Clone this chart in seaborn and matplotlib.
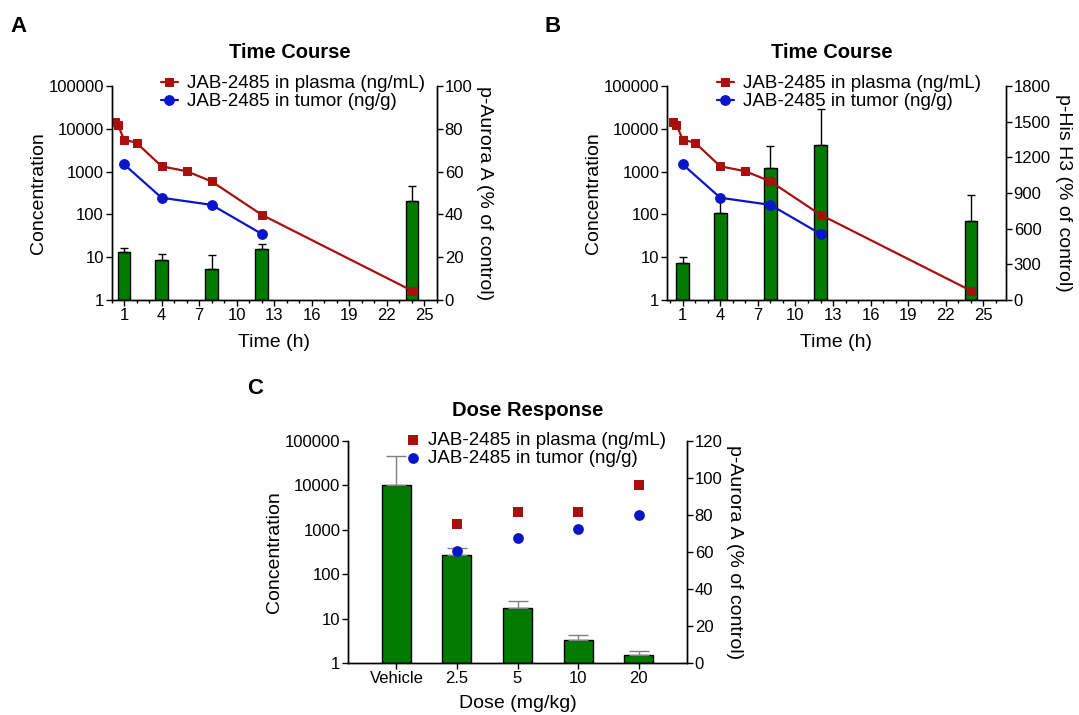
import numpy as np
import matplotlib
matplotlib.use("Agg")
import matplotlib.pyplot as plt
from matplotlib.ticker import FixedLocator, MultipleLocator
import seaborn as sns

# time course, concentrations (left log axis)
time_plasma = [0.25, 0.5, 1, 2, 4, 6, 8, 12, 24]
plasma_conc = [14300, 12600, 5600, 4700, 1330, 1020, 590, 98, 1.65]
time_tumor = [1, 4, 8, 12]
tumor_conc = [1480, 245, 167, 35]

# time course, biomarker bars (right axis)
bar_time = [1, 4, 8, 12, 24]
aurora_mean = [22.6, 18.5, 14.3, 23.8, 46.1]
aurora_err = [1.9, 2.8, 6.6, 2.4, 7.3]
h3_mean = [312, 731, 1114, 1300, 663]
h3_err = [48, 132, 180, 303, 223]

# dose response
dose_labels = ["Vehicle", "2.5", "5", "10", "20"]
dose_aurora_mean = [96.4, 58.2, 29.9, 12.6, 4.1]
dose_aurora_err = [15.4, 3.9, 3.6, 2.8, 2.3]
dose_plasma = [1336, 2520, 2520, 10070]   # 2.5 .. 20 mg/kg
dose_tumor = [331, 670, 1065, 2100]

log_ticks = [1, 10, 100, 1000, 10000, 100000]
x_ticks = [1, 4, 7, 10, 13, 16, 19, 22, 25]

sns.set_theme(style="ticks")
plt.rcParams["font.family"] = ["Liberation Sans", "DejaVu Sans"]
plt.rcParams.update({
    "axes.linewidth": 1.0, "xtick.major.width": 1.0, "ytick.major.width": 1.0,
    "xtick.minor.width": 1.0, "text.color": "black", "axes.labelcolor": "black",
    "xtick.color": "black", "ytick.color": "black", "axes.edgecolor": "black",
})

RED = "#a80f0f"
BLUE = "#0a14c8"
GREEN = "#007a00"
FS = 14
LS = 13.5
TS = 12

W, H = 1079, 715
fig = plt.figure(figsize=(W / 100, H / 100), dpi=100)


def box(l, r, t, b):
    return [l / W, 1 - b / H, (r - l) / W, (b - t) / H]


def style_axes(ax, ax2):
    # bars (ax2) behind lines (ax)
    ax.set_zorder(ax2.get_zorder() + 1)
    ax.patch.set_visible(False)
    ax.set_yscale("log")
    ax.set_ylim(1, 100000)
    ax.yaxis.set_major_locator(FixedLocator(log_ticks))
    ax.set_yticklabels([str(v) for v in log_ticks])
    ax.yaxis.set_minor_locator(FixedLocator([]))
    for a in (ax, ax2):
        a.spines["top"].set_visible(False)
        a.spines["right"].set_visible(True)
        a.tick_params(labelsize=TS, length=4, pad=1.5, direction="out")
    ax.set_ylabel("Concentration", fontsize=FS, labelpad=1)


def time_panel(rect, xlim, bar_mean, bar_err, rlim, rstep, rlabel, leg_xy):
    ax = fig.add_axes(rect)
    ax2 = ax.twinx()
    ax2.bar(bar_time, bar_mean, width=1.0, color=GREEN, edgecolor="black",
            linewidth=1.0, yerr=[np.zeros(len(bar_err)), bar_err],
            error_kw=dict(ecolor="black", elinewidth=1.0, capsize=3, capthick=1.0))
    ax2.set_ylim(0, rlim)
    ax2.yaxis.set_major_locator(MultipleLocator(rstep))
    ax2.set_ylabel(rlabel, fontsize=FS, rotation=270, labelpad=15)

    sns.lineplot(x=time_plasma, y=plasma_conc, ax=ax, color=RED, marker="s",
                 markersize=6, markeredgecolor=RED, linewidth=1.6,
                 label="JAB-2485 in plasma (ng/mL)")
    sns.lineplot(x=time_tumor, y=tumor_conc, ax=ax, color=BLUE, marker="o",
                 markersize=7, markeredgecolor=BLUE, linewidth=1.6,
                 label="JAB-2485 in tumor (ng/g)")
    style_axes(ax, ax2)
    ax.set_xlim(*xlim)
    ax.set_xticks(x_ticks)
    ax.xaxis.set_minor_locator(MultipleLocator(1))
    ax.tick_params(axis="x", which="minor", length=2.5, direction="out")
    ax.set_xlabel("Time (h)", fontsize=FS, labelpad=8)
    ax.legend(loc="upper left", bbox_to_anchor=(leg_xy[0] / W, 1 - leg_xy[1] / H),
              bbox_transform=fig.transFigure, frameon=False, fontsize=LS,
              borderpad=0, borderaxespad=0, handlelength=0.9,
              handletextpad=0.5, labelspacing=0.05)
    return ax


time_panel(box(111.5, 437, 86, 300), (0, 26), aurora_mean, aurora_err,
           100, 20, "p-Aurora A (% of control)", (161, 75))
time_panel(box(667, 1006, 86, 300), (-0.25, 26.8), h3_mean, h3_err,
           1800, 300, "p-His H3 (% of control)", (717, 75))

# dose response panel
axc = fig.add_axes(box(348, 687, 441, 663))
axc2 = axc.twinx()
dose_pos = np.arange(len(dose_labels))
axc2.bar(dose_pos, dose_aurora_mean, width=0.48, color=GREEN, edgecolor="black",
         linewidth=1.0, yerr=[np.zeros(len(dose_aurora_err)), dose_aurora_err],
         error_kw=dict(ecolor="#808080", elinewidth=1.0, capsize=7, capthick=1.0))
axc2.set_ylim(0, 120)
axc2.yaxis.set_major_locator(MultipleLocator(20))
axc2.set_ylabel("p-Aurora A (% of control)", fontsize=FS, rotation=270, labelpad=15)

sns.scatterplot(x=dose_pos[1:], y=dose_plasma, ax=axc, color=RED, marker="s",
                s=45, edgecolor=RED, linewidth=0, label="JAB-2485 in plasma (ng/mL)")
sns.scatterplot(x=dose_pos[1:], y=dose_tumor, ax=axc, color=BLUE, marker="o",
                s=60, edgecolor=BLUE, linewidth=0, label="JAB-2485 in tumor (ng/g)")
style_axes(axc, axc2)
axc.set_xlim(-0.8, 4.8)
axc.set_xticks(dose_pos)
axc.set_xticklabels(dose_labels)
axc.set_xlabel("Dose (mg/kg)", fontsize=FS, labelpad=7)
axc.legend(loc="upper left", bbox_to_anchor=(405 / W, 1 - 432 / H),
           bbox_transform=fig.transFigure, frameon=False, fontsize=LS,
           borderpad=0, borderaxespad=0, handlelength=0.8,
           handletextpad=0.45, labelspacing=0.05)

# titles and panel letters
fig.text(290 / W, 1 - 52 / H, "Time Course", ha="center", va="center",
         fontsize=14.5, fontweight="bold")
fig.text(832 / W, 1 - 52 / H, "Time Course", ha="center", va="center",
         fontsize=14.5, fontweight="bold")
fig.text(528 / W, 1 - 411 / H, "Dose Response", ha="center", va="center",
         fontsize=14.5, fontweight="bold")
for letter, (x, y) in zip("ABC", [(10, 27), (544, 27), (247, 388)]):
    fig.text(x / W, 1 - y / H, letter, ha="left", va="center",
             fontsize=16, fontweight="bold")

fig.savefig("out.png", dpi=100)
